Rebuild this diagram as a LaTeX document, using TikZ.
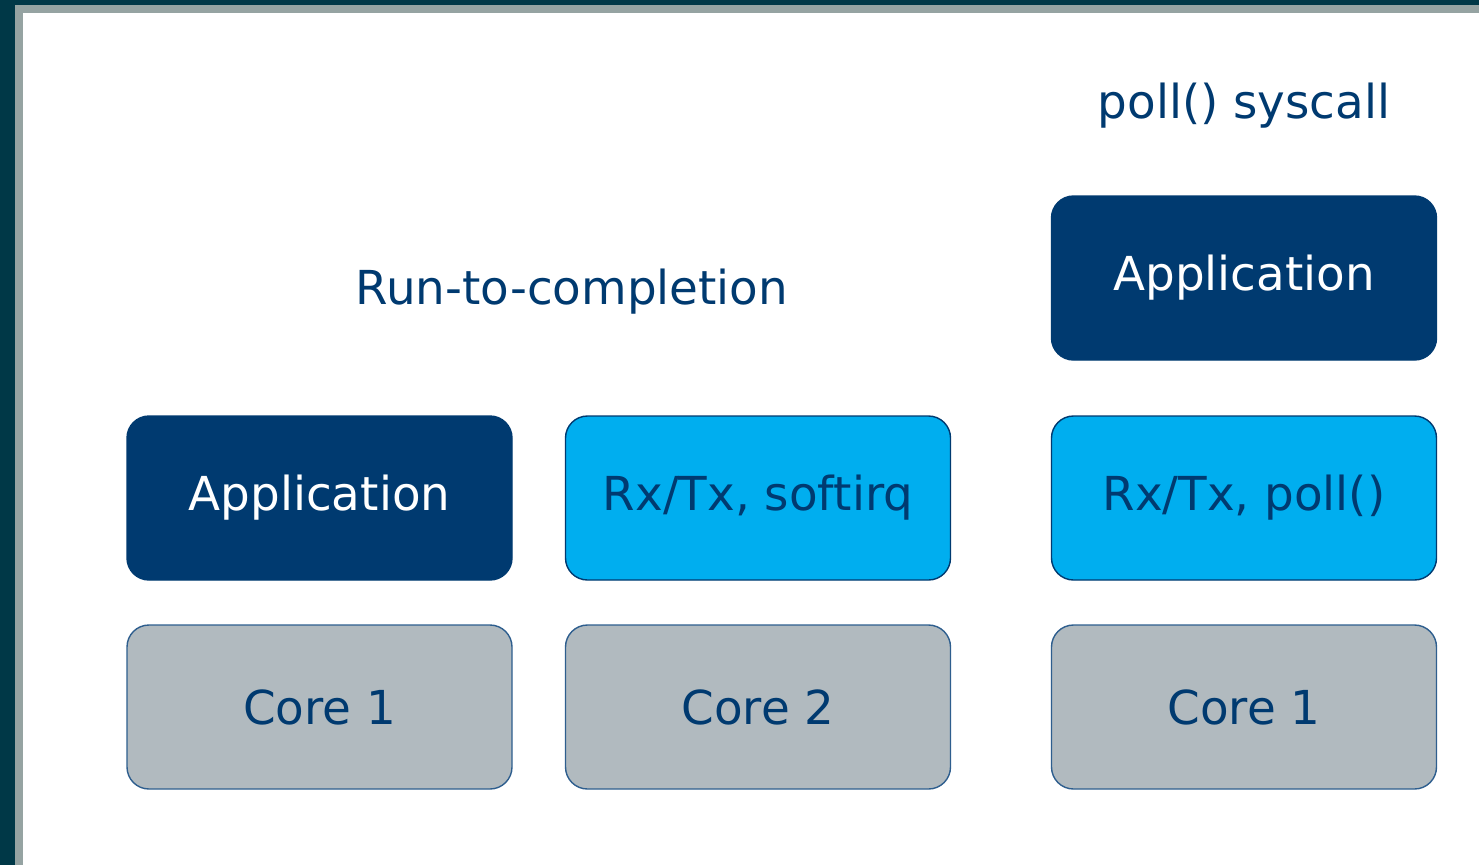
\documentclass[tikz,border=0pt]{standalone}
\usepackage{fontspec}
\setmainfont{DejaVu Sans}
\definecolor{navy}{HTML}{003A70}
\definecolor{cyanbox}{HTML}{00AEEF}
\definecolor{corebox}{HTML}{B1BABF}
\definecolor{coreline}{HTML}{2E5E8E}
\definecolor{frameA}{HTML}{003847}
\definecolor{frameB}{HTML}{95A3A2}
\begin{document}
\begin{tikzpicture}[x=1pt,y=-1pt,
  box/.style={rounded corners=22pt,minimum width=385pt,minimum height=164pt,inner sep=0pt,font=\fontsize{46.8}{50}\selectfont,line width=1.4pt},
  appbox/.style={box,fill=navy,draw=navy,text=white},
  rxbox/.style={box,fill=cyanbox,draw=navy,text=navy},
  cbox/.style={box,fill=corebox,draw=coreline,text=navy},
  lbl/.style={font=\fontsize{46.8}{50}\selectfont,text=navy,inner sep=0pt}]
\useasboundingbox (0,0) rectangle (1479,865);
\fill[frameA] (0,0) rectangle (1479,865);
\fill[frameB] (15,5) rectangle (1479,865);
\fill[white] (23,13) rectangle (1479,865);
\node[appbox] (app1) at (319.5,498) {Application};
\node[rxbox] (rx1) at (758,498) {Rx/Tx, softirq};
\node[rxbox] (rx2) at (1244,498) {Rx/Tx, poll()};
\node[appbox] (app2) at (1244,278) {Application};
\node[cbox] (c1) at (319.5,707) {Core 1};
\node[cbox] (c2) at (758,707) {Core 2};
\node[cbox] (c3) at (1244,707) {Core 1};
\node[lbl] (rtc) at (572,292) {Run-to-completion};
\node[lbl] (poll) at (1244,106) {poll() syscall};
\end{tikzpicture}
\end{document}
